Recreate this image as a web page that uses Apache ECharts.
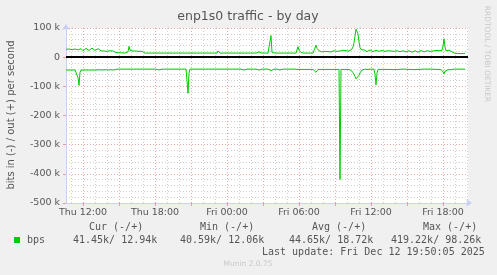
<!DOCTYPE html>
<html><head><meta charset="utf-8">
<script src="https://cdn.jsdelivr.net/npm/echarts@6/dist/echarts.min.js"></script>
<style>html,body{margin:0;padding:0;background:#F0F0F0}#c{width:497px;height:275px}</style>
</head><body><div id="c"></div>
<script>
// 5-minute samples starting Thu 10:35 (kbit/s)
const outBps = [
27,30,31,28,24,23,26,30,31,28,
24,22,25,29,31,29,25,22,24,28,
30,29,25,23,24,28,31,29,26,23,
24,27,29,27,24,
22,21,20,21,22,
21,20,20,21,22,21,20,21,20,21,
16,15,14,15,14,14,15,14,13,14,
15,16,18,37,24,
21,20,21,20,20,21,20,21,20,20,
21,20,21,20,
14,14,14,14,14,14,14,14,14,14,14,
14,14,14,15,14,14,14,14,14,14,
14,14,14,14,14,14,14,14,14,14,
14,14,14,14,14,14,14,14,14,14,
14,14,17,15,14,14,14,14,14,14,
14,14,14,14,14,14,14,14,14,14,
14,14,14,14,14,14,14,14,14,14,
14,14,21,16,14,14,14,14,11,14,
14,18,15,14,14,14,14,14,14,14,
14,14,14,14,14,14,14,14,14,14,
14,14,11,14,14,14,14,14,14,14,
14,14,14,18,15,14,14,14,14,14,
14,14,14,14,14,74,16,14,14,14,
14,14,14,14,14,14,14,14,14,14,
14,14,14,14,14,14,14,14,14,14,
14,14,36,24,18,16,14,15,14,14,
15,14,14,15,14,14,15,14,14,15,
41,30,25,22,20,19,18,19,21,20,
18,17,19,21,20,18,18,20,22,21,
19,20,22,23,21,20,22,24,23,21,
22,24,23,21,22,25,
28,35,50,72,96,98.26,80,52,33,26,24,
23,25,24,21,19,21,24,25,23,20,
19,22,24,24,21,19,20,23,25,23,
20,18,20,23,24,22,19,18,21,23,
23,20,18,19,22,23,22,19,17,19,
22,23,21,18,17,20,22,22,19,17,
18,21,22,21,18,17,19,22,23,20,
18,18,21,23,22,19,18,20,23,24,
21,19,20,23,
27,26,22,21,20,24,38,
63,35,
22,19,21,24,22,19,18,20,17,
13,13,12.06,13,13,13,12,13,13,13,12.94
];
const inBps = [
44,44,43,44,44,45,44,44,43,44,
44,44,70,97,52,44,44,43,44,44,
44,44,44,47,44,44,43,44,44,44,
44,44,44,43,44,44,44,44,44,43,
44,44,44,44,44,43,44,44,44,
41,41,41,41,41,41,41,41,41,41,41,
41,41,41,41,44,41,41,41,41,41,
41,41,41,41,41,41,41,41,41,44,
41,41,41,41,41,41,41,41,41,41,
41,41,41,44,41,41,41,41,41,41,
41,41,41,41,41,41,41,41,41,41,
41,41,41,41,41,41,41,41,41,41,
41,80,124,55,41,41,41,41,41,41,
41,41,41,41,41,41,41,41,41,41,
41,41,41,41,41,41,41,41,41,41,
41,41,44,41,41,41,41,41,41,41,
41,41,41,41,41,41,41,41,41,41,
41,41,41,41,41,41,41,41,44,41,
41,41,41,41,41,41,41,41,41,41,
41,41,41,44,41,41,41,41,41,41,
41,41,41,41,41,46,41,41,41,41,
41,41,41,41,44,41,41,41,41,41,
41,41,41,41,41,41,41,41,41,41,
41,41,42,42,42,42,42,42,42,42,
42,42,42,42,42,42,42,42,42,48,
52,46,42,42,42,42,42,42,42,42,
42,42,42,42,42,42,42,42,42,42,
42,42,42,42,419.22,42,42,42,42,42,
42,42,42,42,43,
44,47,52,58,66,74,78,72,62,54,48,44,42,
42,41,
42,41,42,43,42,41,42,42,41,60,
95,55,42,41,42,42,41,42,42,42,
45,42,41,42,42,41,42,43,42,41,
42,42,41,42,43,42,41,42,42,41,
42,43,42,41,42,42,41,42,43,42,
41,42,42,41,42,43,42,41,42,42,
41,44,42,41,42,42,41,42,43,42,
41,42,42,41,42,43,
45,50,57,48,44,
43,43,43,43,43,43,43,
41,41,40.59,41,41,41,41,41,41,41,41,41.45
];
const xTickLabels = ['Thu 12:00','Thu 18:00','Fri 00:00','Fri 06:00','Fri 12:00','Fri 18:00'];
const yTickValues = [100,0,-100,-200,-300,-400,-500];
const legendHeaders = ['Cur (-/+)','Min (-/+)','Avg (-/+)','Max (-/+)'];
const legendValues = ['41.45k/ 12.94k','40.59k/ 12.06k','44.65k/ 18.72k','419.22k/ 98.26k'];

const startMin = 10*60+35, stepMin = 5, nSlots = 403;
const times = [];
for (let k = 0; k < nSlots; k++) {
  const m = startMin + k*stepMin;
  const day = m >= 1440 ? 'Fri' : 'Thu';
  const mm = m % 1440;
  const h = Math.floor(mm/60), mi = mm % 60;
  times.push(day + ' ' + String(h).padStart(2,'0') + ':' + String(mi).padStart(2,'0'));
}
const isHour = v => v.endsWith(':00');
const hourOf = v => parseInt(v.slice(4,6),10);
const is3h = v => isHour(v) && hourOf(v) % 3 === 0;

const FONT = 'DejaVu Sans';
const MONO = 'DejaVu Sans Mono';
const TXT = '#555555';
const AX = '#C8D0F4';

const chart = echarts.init(document.getElementById('c'), null, {renderer:'canvas'});
const G = {left:66, right:29, top:28, bottom:72};
const textEl = (x,y,s,opt) => Object.assign({type:'text', x, y, silent:true,
  style:Object.assign({text:s, fill:TXT, font:'10px '+MONO, textVerticalAlign:'middle', textAlign:'left'}, opt||{})});
const graphics = [
  textEl(248, 17, 'enp1s0 traffic - by day', {font:'12.5px '+FONT, textAlign:'center'}),
  {type:'text', x:11, y:115, rotation:Math.PI/2, silent:true,
   style:{text:'bits in (-) / out (+) per second', fill:TXT, font:'10px '+FONT, textAlign:'center', textVerticalAlign:'middle'}},
  {type:'text', x:487, y:54, rotation:-Math.PI/2, silent:true,
   style:{text:'RRDTOOL / TOBI OETIKER', fill:'#C8C8C8', font:'7.5px '+FONT, textAlign:'center', textVerticalAlign:'middle'}},
  {type:'rect', shape:{x:14, y:237, width:6, height:6}, style:{fill:'#00CC00'}, silent:true},
  textEl(27, 240, 'bps'),
  textEl(262, 252, 'Last update: Fri Dec 12 19:50:05 2025'),
  textEl(248, 264, 'Munin 2.0.75', {font:'7.5px '+FONT, fill:'#C8C8C8', textAlign:'center'})
];
const hx = [89,200,312,423], vx = [73,180,289,391];
legendHeaders.forEach((s,i)=>graphics.push(textEl(hx[i],227,s)));
legendValues.forEach((s,i)=>graphics.push(textEl(vx[i],240,s)));

chart.setOption({
  animation:false,
  backgroundColor:'#F0F0F0',
  grid:Object.assign({show:true, backgroundColor:'#FFFFFF', borderWidth:0}, G),
  xAxis:[
    {type:'category', data:times, boundaryGap:false,
     axisLine:{show:true, onZero:false, lineStyle:{color:AX, width:1}, symbol:['none','arrow'], symbolSize:[6,6], symbolOffset:[0,4]},
     axisTick:{show:true, length:3, interval:(i,v)=>is3h(v), lineStyle:{color:'#E0A0A0'}},
     axisLabel:{show:true, interval:(i,v)=>xTickLabels.includes(v), formatter:v=>v, color:TXT, fontFamily:FONT, fontSize:9.5, margin:5},
     splitLine:{show:true, interval:(i,v)=>isHour(v) && !is3h(v), lineStyle:{color:'#D0D0D0', type:[1,2], width:1}}},
    {type:'category', data:times, boundaryGap:false, position:'bottom',
     axisLine:{show:false}, axisTick:{show:false}, axisLabel:{show:false},
     splitLine:{show:true, interval:(i,v)=>is3h(v), lineStyle:{color:'#E8A8A8', type:[1,2], width:1}}}
  ],
  yAxis:{type:'value', min:-500, max:100, interval:100,
    axisLine:{show:true, lineStyle:{color:AX, width:1}, symbol:['none','arrow'], symbolSize:[6,6], symbolOffset:[0,4]},
    axisTick:{show:true, length:3, lineStyle:{color:'#E0A0A0'}},
    axisLabel:{color:TXT, fontFamily:FONT, fontSize:9.5, margin:6, formatter:v=> yTickValues.includes(v) ? (v===0?'0':v+' k') : ''},
    splitLine:{show:true, lineStyle:{color:'#E8A8A8', type:[1,2], width:1}},
    minorTick:{show:false, splitNumber:5},
    minorSplitLine:{show:true, lineStyle:{color:'#D0D0D0', type:[1,2], width:1}}
  },
  series:[
    {type:'line', name:'out', data:outBps, showSymbol:false, symbol:'none', lineStyle:{color:'#00CC00', width:1}, z:3,
     markLine:{silent:true, symbol:'none', label:{show:false}, lineStyle:{color:'#000000', width:2, type:'solid'}, data:[{yAxis:0}], animation:false}},
    {type:'line', name:'in', data:inBps.map(v=>-v), showSymbol:false, symbol:'none', lineStyle:{color:'#00CC00', width:1}, z:3}
  ],
  graphic:graphics
});
</script></body></html>
